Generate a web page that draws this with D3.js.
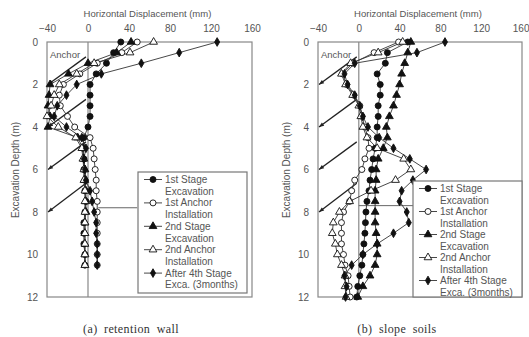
<!DOCTYPE html>
<html>
<head>
<meta charset="utf-8">
<script src="https://cdn.jsdelivr.net/npm/d3@7"></script>
<style>
  body { margin: 0; background: #fff; }
  svg text { font-family: "Liberation Sans", Arial, sans-serif; fill: #555; }
</style>
</head>
<body>
<svg id="chart" width="529" height="337"></svg>
<script>
// x ticks / y ticks
const xTicks = [-40, 0, 40, 80, 120, 160];
const yTicks = [0, 2, 4, 6, 8, 10, 12];

const seriesNames = [
  ['1st Stage', 'Excavation'],
  ['1st Anchor', 'Installation'],
  ['2nd Stage', 'Excavation'],
  ['2nd Anchor', 'Installation'],
  ['After 4th Stage', 'Exca. (3months)']
];
const markerTypes = ['circle', 'ocircle', 'tri', 'otri', 'diamond'];

// (a) retention wall, depth 0 .. 10.5 m
const depthA = [0, 0.5, 1, 1.5, 2, 2.5, 3, 3.5, 4, 4.5, 5, 5.5, 6, 6.5, 7, 7.5, 8, 8.5, 9, 9.5, 10, 10.5];
const wallStage1 = [32, 25, 18, 8, 2, 2, 2, 2, 0, -4, -5, -4, -4, -3, -3, -2, -3, -4, -4, -4, -3, -3];
const wallAnchor1 = [48, 33, 9, -8, -24, -28, -27, -20, -13, 2, 5, 6, 7, 8, 8, 9, 9, 9, 9, 9, 9, 9];
const wallStage2 = [42, 28, 0, -19, -37, -38, -39, -37, -39, -10, -5, -4, -3, -3, -2, -2, -2, -3, -3, -3, -3, -3];
const wallAnchor2 = [64, 41, 6, -11, -28, -33, -36, -40, -29, -12, -6, -5, -4, -4, -3, -3, -3, -3, -3, -3, -3, -3];
const wallAfter4 = [126, 89, 52, 13, -11, -21, -30, -33, -21, -6, -2, -4, -3, -2, 2, 4, 6, 8, 8, 9, 9, 9];

// (b) slope soils, depth 0 .. 12 m
const depthB = [0, 0.5, 1, 1.5, 2, 2.5, 3, 3.5, 4, 4.5, 5, 5.5, 6, 6.5, 7, 7.5, 8, 8.5, 9, 9.5, 10, 10.5, 11, 11.5, 12];
const soilStage1 = [48, 28, 26, 18, 21, 21, 19, 19, 18, 18, 16, 14, 12.6, 11, 10, 8, 7, 6.5, 6, 5, 4, 3, 1, -1, -2];
const soilAnchor1 = [39, 15, -6, -16, -12, -5, 1, 3, 6, 9, 10, 6, 3, -4, -7, -9, -15, -17, -17, -17, -15, -13.5, -10.5, -9.5, -8.5];
const soilStage2 = [51, 48, 45, 42, 40, 37, 34, 30, 27, 28, 24, 19, 17, 17, 16, 16, 16, 16, 17, 18, 18, 16, 11, 4, -1];
const soilAnchor2 = [43, 19, -8, -17, -13, -6, 0, 2, 4, 8, 18, 44, 51, 36, 12, -9, -19, -25, -26, -23, -21, -17, -13.5, -13.5, -12.5];
const soilAfter4 = [84.5, 57, -4, -14, -11, -4, 1, 4, 9, 20, 34, 50, 66, 53, 42, 40, 47, 49, 34, 18, 4, -7, -14, -12, -13];

// anchors: from wall (top depth) down to the left edge (bottom depth)
const anchorTop = [0.7, 2.7, 4.7, 6.65];
const anchorBottom = [2, 4, 6, 8];

const panels = [
  { x0: 47, x1: 252, depth: depthA, series: [wallStage1, wallAnchor1, wallStage2, wallAnchor2, wallAfter4],
    caption: '(a) retention wall', capX: 131, level: 7.8, levelFrom: 10, levelTo: 48,
    legend: { x: 138, y: 172, w: 109, h: 121, step: 11.7 }, ylabX: 16 },
  { x0: 318, x1: 522, depth: depthB, series: [soilStage1, soilAnchor1, soilStage2, soilAnchor2, soilAfter4],
    caption: '(b) slope soils', capX: 397, level: 7.7, levelFrom: 0, levelTo: 57,
    legend: { x: 413, y: 181, w: 109, h: 116, step: 11.5 }, ylabX: 287 }
];

const svg = d3.select('#chart');
const Y0 = 42, Y1 = 297;

function marker(g, type, x, y) {
  const filled = type === 'circle' || type === 'tri' || type === 'diamond';
  let m;
  if (type === 'circle' || type === 'ocircle') {
    m = g.append('circle').attr('cx', x).attr('cy', y).attr('r', 3);
  } else if (type === 'tri' || type === 'otri') {
    m = g.append('path').attr('d', d3.symbol(d3.symbolTriangle, 26)()).attr('transform', `translate(${x},${y})`);
  } else {
    m = g.append('path').attr('d', d3.symbol(d3.symbolDiamond, 22)()).attr('transform', `translate(${x},${y})`);
  }
  m.attr('fill', filled ? '#111' : '#fff').attr('stroke', '#111').attr('stroke-width', 0.9);
}

panels.forEach((p, pi) => {
  const x = d3.scaleLinear().domain([-40, 160]).range([p.x0, p.x1]);
  const y = d3.scaleLinear().domain([0, 12]).range([Y0, Y1]);
  const g = svg.append('g');

  // frame
  g.append('rect').attr('x', p.x0).attr('y', Y0).attr('width', p.x1 - p.x0).attr('height', Y1 - Y0)
    .attr('fill', 'none').attr('stroke', '#888').attr('stroke-width', 1.2);
  // wall / zero line
  g.append('line').attr('x1', x(0)).attr('x2', x(0)).attr('y1', Y0).attr('y2', Y1)
    .attr('stroke', '#888').attr('stroke-width', 1.2);

  // axes
  const xa = g.append('g').attr('transform', `translate(0,${Y0 - 6})`)
    .call(d3.axisTop(x).tickValues(xTicks).tickSize(0).tickPadding(4))
    .call(a => a.select('.domain').remove());
  xa.selectAll('text').attr('font-size', 10).attr('fill', '#555').attr('font-family', 'Liberation Sans, Arial');
  // last label of the right panel sits against the page edge
  if (pi === 1) xa.selectAll('.tick').filter(d => d === 160).select('text').attr('text-anchor', 'end').attr('dx', 7);
  g.append('g').attr('transform', `translate(${p.x0 - 9},0)`)
    .call(d3.axisLeft(y).tickValues(yTicks).tickSize(0).tickPadding(0))
    .call(a => a.select('.domain').remove())
    .selectAll('text').attr('font-size', 10).attr('fill', '#555').attr('font-family', 'Liberation Sans, Arial');

  g.append('text').attr('x', (p.x0 + p.x1) / 2 - 2).attr('y', 17).attr('text-anchor', 'middle')
    .attr('font-size', 9.5).text('Horizontal Displacement (mm)');
  g.append('text').attr('transform', `translate(${p.ylabX + 3},170) rotate(-90)`).attr('text-anchor', 'middle')
    .attr('font-size', 10).text('Excavation Depth (m)');
  g.append('text').attr('x', p.x0 + 3).attr('y', 58).attr('font-size', 9.5).text('Anchor');

  // anchors
  anchorBottom.forEach((d, i) => {
    const xa = x(-40) + 1, ya = y(d), xb = x(-2), yb = y(anchorTop[i]);
    g.append('line').attr('x1', xa).attr('y1', ya).attr('x2', xb).attr('y2', yb)
      .attr('stroke', '#222').attr('stroke-width', 1.3);
    const ang = Math.atan2(yb - ya, xb - xa);
    const hx = Math.cos(ang), hy = Math.sin(ang);
    g.append('path')
      .attr('d', `M${xa},${ya} L${xa + 5 * hx - 2 * hy},${ya + 5 * hy + 2 * hx} L${xa + 5 * hx + 2 * hy},${ya + 5 * hy - 2 * hx} Z`)
      .attr('fill', '#222');
  });

  // excavation level line
  g.append('line').attr('x1', x(p.levelFrom)).attr('x2', x(p.levelTo))
    .attr('y1', y(p.level)).attr('y2', y(p.level)).attr('stroke', '#666').attr('stroke-width', 1);

  // series
  const line = d3.line().x(d => x(d[0])).y(d => y(d[1]));
  p.series.forEach((vals, si) => {
    const pts = vals.map((v, i) => [v, p.depth[i]]);
    g.append('path').attr('d', line(pts)).attr('fill', 'none').attr('stroke', '#333').attr('stroke-width', 0.9);
  });
  p.series.forEach((vals, si) => {
    vals.forEach((v, i) => marker(g, markerTypes[si], x(v), y(p.depth[i])));
  });

  // legend
  const L = p.legend;
  g.append('rect').attr('x', L.x).attr('y', L.y).attr('width', L.w).attr('height', L.h)
    .attr('fill', '#fff').attr('stroke', '#777').attr('stroke-width', 1.2);
  seriesNames.forEach((nm, i) => {
    const ty = L.y + 11 + i * 2 * L.step;
    const cy = ty - 3.5;
    g.append('line').attr('x1', L.x + 6).attr('x2', L.x + 24).attr('y1', cy).attr('y2', cy)
      .attr('stroke', '#333').attr('stroke-width', 0.9);
    marker(g, markerTypes[i], L.x + 15, cy);
    g.append('text').attr('x', L.x + 27).attr('y', ty).attr('font-size', 10).text(nm[0]);
    g.append('text').attr('x', L.x + 27).attr('y', ty + L.step).attr('font-size', 10).text(nm[1]);
  });

  // caption
  g.append('text').attr('x', p.capX).attr('y', 333).attr('text-anchor', 'middle')
    .attr('font-size', 12).attr('word-spacing', 3).attr('letter-spacing', 0.4)
    .style('font-family', '"Liberation Serif", "Times New Roman", serif').style('fill', '#333')
    .text(p.caption);
});
</script>
</body>
</html>
